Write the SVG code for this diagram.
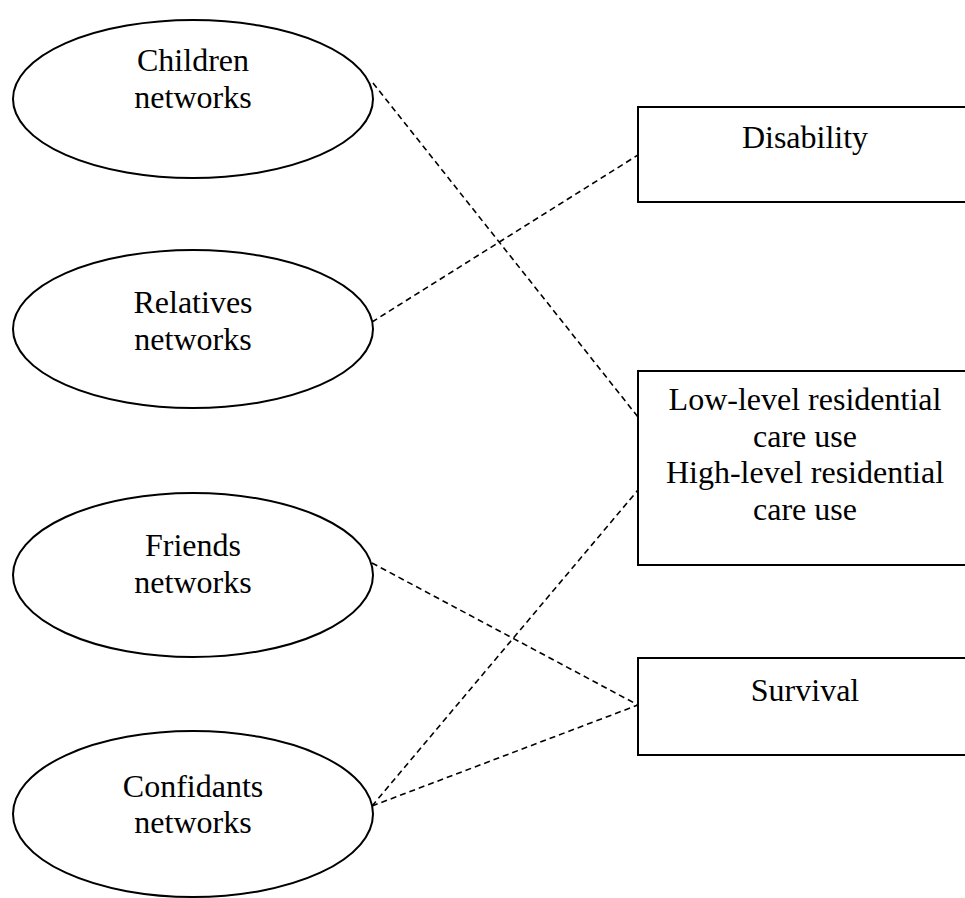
<svg xmlns="http://www.w3.org/2000/svg" width="965" height="898" viewBox="0 0 965 898">
  <style>
    .node { fill: #ffffff; stroke: #000000; stroke-width: 2; }
    .link { fill: none; stroke: #000000; stroke-width: 1.6; stroke-dasharray: 6 4; }
    .label { font-family: "Liberation Serif", "Times New Roman", serif; font-size: 32px; fill: #000000; text-anchor: middle; }
  </style>
  <rect x="0" y="0" width="965" height="898" fill="#ffffff"/>

  <g id="connectors">
    <line class="link" x1="373" y1="83" x2="638" y2="417"/>
    <line class="link" x1="372" y1="322" x2="638" y2="155"/>
    <line class="link" x1="372" y1="563" x2="638" y2="705"/>
    <line class="link" x1="372" y1="806" x2="638" y2="490"/>
    <line class="link" x1="372" y1="806" x2="638" y2="705"/>
  </g>

  <g id="children">
    <ellipse class="node" cx="193" cy="99" rx="180" ry="79"/>
    <text class="label" x="193" y="71">Children</text>
    <text class="label" x="193" y="108">networks</text>
  </g>

  <g id="relatives">
    <ellipse class="node" cx="193" cy="329" rx="180" ry="79"/>
    <text class="label" x="193" y="313">Relatives</text>
    <text class="label" x="193" y="350">networks</text>
  </g>

  <g id="friends">
    <ellipse class="node" cx="193" cy="575" rx="180" ry="82"/>
    <text class="label" x="193" y="556">Friends</text>
    <text class="label" x="193" y="593">networks</text>
  </g>

  <g id="confidants">
    <ellipse class="node" cx="193" cy="814" rx="180" ry="83"/>
    <text class="label" x="193" y="797">Confidants</text>
    <text class="label" x="193" y="833">networks</text>
  </g>

  <g id="disability">
    <rect class="node" x="638" y="107" width="340" height="95"/>
    <text class="label" x="805" y="148">Disability</text>
  </g>

  <g id="residential-care">
    <rect class="node" x="638" y="371" width="340" height="194"/>
    <text class="label" x="805" y="410">Low-level residential</text>
    <text class="label" x="805" y="447">care use</text>
    <text class="label" x="805" y="483">High-level residential</text>
    <text class="label" x="805" y="520">care use</text>
  </g>

  <g id="survival">
    <rect class="node" x="638" y="658" width="340" height="97"/>
    <text class="label" x="805" y="701">Survival</text>
  </g>
</svg>
